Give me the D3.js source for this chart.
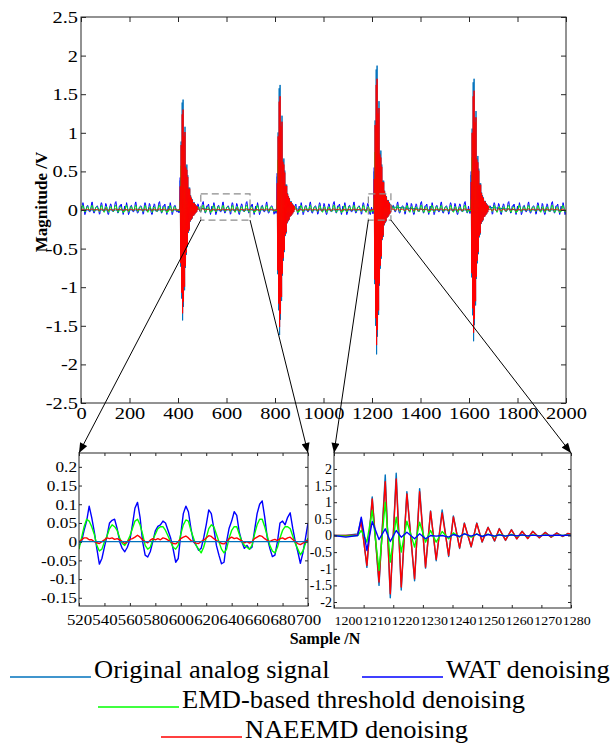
<!DOCTYPE html>
<html>
<head>
<meta charset="utf-8">
<script src="https://cdn.jsdelivr.net/npm/d3@7"></script>
<style>
  body { margin: 0; background: #fff; }
</style>
</head>
<body>
<script>
// ---- data ----
const seriesNames = ["Original analog signal", "WAT denoising", "EMD-based threshold denoising", "NAEEMD denoising"];
const seriesColors = ["#0072BD", "#0000FF", "#00FF00", "#FF0000"];

const xTicksMain = [0, 200, 400, 600, 800, 1000, 1200, 1400, 1600, 1800, 2000];
const yTicksMain = [-2.5, -2, -1.5, -1, -0.5, 0, 0.5, 1, 1.5, 2, 2.5];
const xTicksWin1 = [520, 540, 560, 580, 600, 620, 640, 660, 680, 700];
const yTicksWin1 = [-0.15, -0.1, -0.05, 0, 0.05, 0.1, 0.15, 0.2];
const xTicksWin2 = [1200, 1210, 1220, 1230, 1240, 1250, 1260, 1270, 1280];
const yTicksWin2 = [-2, -1.5, -1, -0.5, 0, 0.5, 1, 1.5, 2];

// zoom window 1 (samples 520-700, read every 2 samples)
const win1Samples = d3.range(520, 701, 2);
const win1Wat = [
  -0.01, 0.0, 0.03, 0.055, 0.095, 0.064, 0.027, -0.018, -0.06, -0.045,
  -0.014, 0.015, 0.05, 0.057, 0.06, 0.035, 0.0, -0.018, -0.027, -0.015,
  0.005, 0.045, 0.09, 0.105, 0.065, 0.0, -0.036, -0.041, -0.027, 0.0,
  0.029, 0.041, 0.045, 0.055, 0.05, 0.03, 0.01, -0.02, -0.055, -0.045,
  0.02, 0.075, 0.095, 0.08, 0.035, 0.0, -0.009, -0.023, -0.018, 0.01,
  0.045, 0.085, 0.075, 0.035, -0.01, -0.036, -0.059, -0.055, 0.0, 0.036,
  0.055, 0.08, 0.07, 0.025, 0.0, -0.018, -0.01, -0.02, -0.015, 0.03,
  0.075, 0.1, 0.109, 0.065, 0.01, -0.018, -0.04, -0.036, 0.0, 0.05,
  0.055, 0.045, 0.065, 0.077, 0.036, 0.0, -0.027, -0.058, -0.03, 0.009,
  0.05
];
const win1Emd = [
  -0.02, 0.01, 0.04, 0.06, 0.055, 0.04, 0.02, -0.01, -0.025, -0.02,
  0.0, 0.015, 0.035, 0.045, 0.04, 0.03, 0.01, -0.005, -0.01, 0.0,
  0.015, 0.035, 0.055, 0.06, 0.045, 0.02, -0.01, -0.02, -0.015, 0.005,
  0.02, 0.035, 0.04, 0.04, 0.03, 0.015, 0.0, -0.015, -0.02, -0.01,
  0.02, 0.045, 0.058, 0.055, 0.03, 0.01, -0.01, -0.02, -0.03, -0.015,
  0.01, 0.035, 0.045, 0.04, 0.02, 0.0, -0.02, -0.03, -0.02, 0.01,
  0.03, 0.04, 0.04, 0.02, 0.0, -0.01, -0.015, -0.02, -0.01, 0.02,
  0.045, 0.06, 0.06, 0.04, 0.015, -0.01, -0.025, -0.03, -0.015, 0.01,
  0.03, 0.04, 0.04, 0.035, 0.015, -0.005, -0.02, -0.035, -0.025, -0.005,
  0.01
];
const win1Naeemd = [
  0.0, 0.005, 0.01, 0.01, 0.005, 0.005, 0.0, -0.003, -0.005, 0.0,
  0.005, 0.01, 0.008, 0.01, 0.006, 0.008, 0.005, 0.0, -0.005, 0.0,
  0.006, 0.008, 0.012, 0.017, 0.012, 0.005, 0.0, -0.003, 0.004, 0.008,
  0.005, 0.008, 0.005, 0.01, 0.008, 0.004, 0.0, -0.005, -0.006, 0.0,
  0.008, 0.012, 0.015, 0.01, 0.003, 0.0, -0.004, -0.005, 0.0, 0.004,
  0.01, 0.016, 0.014, 0.008, 0.003, 0.0, -0.005, -0.006, 0.0, 0.008,
  0.012, 0.008, 0.01, 0.006, 0.002, -0.003, 0.0, -0.004, 0.0, 0.008,
  0.012, 0.016, 0.014, 0.008, 0.003, 0.0, 0.004, 0.006, 0.003, 0.008,
  0.01, 0.006, 0.01, 0.012, 0.006, 0.0, -0.005, -0.008, -0.004, 0.0,
  0.005
];
// the clean signal is flat between impulses
const win1OrigSamples = [520, 700];
const win1Orig = [0, 0];

// zoom window 2 (samples 1200-1280, turning points of the impulse)
const win2Samples = [
  1200, 1204, 1208, 1209.2, 1211.1, 1212.9, 1215.2, 1217.3, 1219.0, 1221.0,
  1222.7, 1224.6, 1227.2, 1228.9, 1230.9, 1232.6, 1234.5, 1236.5, 1238.7, 1240.3,
  1242.4, 1244.0, 1246.3, 1248.2, 1250.0, 1252.0, 1254.2, 1255.8, 1257.9, 1259.9,
  1261.7, 1263.5, 1265.4, 1267.1, 1269.3, 1271.3, 1273.3, 1275.2, 1277.2, 1278.9,
  1280
];
const win2Orig = [
  0, 0, 0.05, 0.5, -0.96, 1.16, -1.5, 1.82, -1.87, 1.87,
  -1.64, 1.32, -1.36, 1.41, -0.98, 0.74, -0.76, 0.77, -0.63, 0.59,
  -0.39, 0.38, -0.35, 0.38, -0.2, 0.25, -0.17, 0.21, -0.15, 0.18,
  -0.1, 0.13, -0.09, 0.13, -0.07, 0.1, -0.05, 0.08, -0.03, 0.06,
  0.04
];
const win2Wat = [
  0, -0.05, 0.0, 0.55, -0.45, 0.42, -0.12, 0.2, -0.18, 0.15,
  -0.05, 0.1, -0.1, 0.05, -0.1, 0.0, -0.02, 0.0, -0.05, 0.03,
  -0.03, 0.05, -0.02, 0.04, -0.03, 0.03, -0.02, 0.02, -0.02, 0.02,
  -0.01, 0.02, -0.01, 0.01, -0.01, 0.01, 0.0, 0.01, 0.0, 0.01,
  0.0
];
const win2Emd = [
  0, -0.02, 0.0, 0.15, -0.2, 0.75, -1.05, 1.0, -0.8, 0.55,
  -0.5, 0.43, -0.35, 0.4, -0.2, 0.15, -0.2, 0.12, -0.1, 0.08,
  -0.05, 0.06, -0.05, 0.05, -0.03, 0.04, -0.03, 0.03, -0.02, 0.03,
  -0.02, 0.02, -0.02, 0.02, -0.01, 0.02, -0.01, 0.01, 0.0, 0.01,
  0.01
];
const win2Naeemd = [
  0, 0, 0.02, 0.4, -0.9, 1.1, -1.4, 1.62, -1.75, 1.7,
  -1.55, 1.25, -1.3, 1.32, -0.95, 0.72, -0.72, 0.68, -0.6, 0.56,
  -0.37, 0.36, -0.33, 0.36, -0.19, 0.24, -0.16, 0.2, -0.14, 0.17,
  -0.1, 0.12, -0.09, 0.12, -0.07, 0.09, -0.05, 0.07, -0.03, 0.06,
  0.04
];

// impulses in the full record and their peak heights
const burstStarts = [400, 800, 1200, 1600];
const burstPeaks = [1.43, 1.62, 1.87, 1.70];

const FONT = "Liberation Serif";

// ---- build the full 2000-sample record from the two windows ----
function fullRecord(nSamples, nValues, bValues) {
  const peak = d3.max(win2Orig);
  const pts = [];
  // background noise: the window-1 stretch repeats across the record
  for (let off = -540; off < 2000; off += 180) {
    nSamples.forEach((s, i) => {
      const t = s - 520 + off;
      if (t < 0 || t > 2000) return;
      if (burstStarts.some(b => t >= b && t <= b + 80)) return;
      pts.push([t, nValues[i]]);
    });
  }
  burstStarts.forEach((b, k) => {
    win2Samples.forEach((s, i) => pts.push([b + s - 1200, bValues[i] * burstPeaks[k] / peak]));
  });
  return pts.sort((a, b) => a[0] - b[0]);
}
const zip = (xs, ys) => xs.map((x, i) => [x, ys[i]]);

const mainData = [
  fullRecord(win1OrigSamples, win1Orig, win2Orig),
  fullRecord(win1Samples, win1Wat, win2Wat),
  fullRecord(win1Samples, win1Emd, win2Emd),
  fullRecord(win1Samples, win1Naeemd, win2Naeemd)
];
const win1Data = [
  zip(win1OrigSamples, win1Orig),
  zip(win1Samples, win1Wat),
  zip(win1Samples, win1Emd),
  zip(win1Samples, win1Naeemd)
];
const win2Data = [
  zip(win2Samples, win2Orig),
  zip(win2Samples, win2Wat),
  zip(win2Samples, win2Emd),
  zip(win2Samples, win2Naeemd)
];

// ---- drawing ----
const svg = d3.select("body").append("svg")
  .attr("width", 616)
  .attr("height", 744)
  .attr("font-family", FONT);

svg.append("defs").append("marker")
  .attr("id", "arrow")
  .attr("viewBox", "0 0 10 8")
  .attr("refX", 10).attr("refY", 4)
  .attr("markerWidth", 11).attr("markerHeight", 8)
  .attr("markerUnits", "userSpaceOnUse")
  .attr("orient", "auto")
  .append("path")
  .attr("d", "M0,0L10,4L0,8Z")
  .attr("fill", "#000");

function stretch(sel, k) {
  sel.each(function() {
    const w = this.getComputedTextLength();
    d3.select(this).attr("textLength", w * k).attr("lengthAdjust", "spacingAndGlyphs");
  });
}

function panel(p) {
  const g = svg.append("g").attr("transform", "translate(" + p.left + "," + p.top + ")");
  const x = d3.scaleLinear().domain(p.xDomain).range([0, p.width]);
  const y = d3.scaleLinear().domain(p.yDomain).range([p.height, 0]);

  g.append("clipPath").attr("id", p.id)
    .append("rect").attr("width", p.width).attr("height", p.height);

  const line = d3.line().x(d => x(d[0])).y(d => y(d[1]));
  g.append("g").attr("clip-path", "url(#" + p.id + ")")
    .selectAll("path")
    .data(p.order)
    .join("path")
    .attr("d", i => line(p.data[i]))
    .attr("fill", "none")
    .attr("stroke", i => seriesColors[i])
    .attr("stroke-width", p.lw)
    .attr("stroke-linejoin", "round");

  const fmt = d => String(d);
  const xa = g.append("g").attr("transform", "translate(0," + p.height + ")")
    .call(d3.axisBottom(x).tickValues(p.xTicks).tickFormat(fmt).tickSizeInner(-p.tick).tickSizeOuter(0).tickPadding(p.xPad));
  const ya = g.append("g")
    .call(d3.axisLeft(y).tickValues(p.yTicks).tickFormat(fmt).tickSizeInner(-p.tick).tickSizeOuter(0).tickPadding(p.yPad));
  g.append("g")
    .call(d3.axisTop(x).tickValues(p.xTicks).tickFormat("").tickSizeInner(-p.tick).tickSizeOuter(0));
  g.append("g").attr("transform", "translate(" + p.width + ",0)")
    .call(d3.axisRight(y).tickValues(p.yTicks).tickFormat("").tickSizeInner(-p.tick).tickSizeOuter(0));

  g.selectAll(".domain").remove();
  g.selectAll(".tick line").attr("stroke", "#262626");
  g.selectAll("g").attr("font-family", FONT);
  g.append("rect")
    .attr("width", p.width).attr("height", p.height)
    .attr("fill", "none").attr("stroke", "#262626").attr("stroke-width", 1);

  xa.selectAll("text").attr("font-family", FONT).attr("fill", "#000")
    .attr("font-size", p.xFont).attr("dx", p.xShift || 0);
  ya.selectAll("text").attr("font-family", FONT).attr("fill", "#000")
    .attr("font-size", p.yFont);
  stretch(xa.selectAll("text"), p.xStretch);
  stretch(ya.selectAll("text"), p.yStretch);
  return { g, x, y };
}

const main = panel({
  id: "clipMain", left: 81, top: 17, width: 485, height: 386,
  xDomain: [0, 2000], yDomain: [-2.5, 2.5],
  xTicks: xTicksMain, yTicks: yTicksMain,
  data: mainData, order: [0, 1, 2, 3], lw: 1,
  tick: 5, xPad: 4, yPad: 3, xFont: 17, yFont: 17, xStretch: 1.2, yStretch: 1.2
});

const win1 = panel({
  id: "clipWin1", left: 79, top: 453, width: 229, height: 153,
  xDomain: [520, 700], yDomain: [-0.172, 0.237],
  xTicks: xTicksWin1, yTicks: yTicksWin1,
  data: win1Data, order: [1, 2, 3, 0], lw: 1.4,
  tick: 3, xPad: 8, yPad: 2, xFont: 15, yFont: 15, xStretch: 1.12, yStretch: 1.15
});

// labels under window 2 sit slightly right of their ticks and close up
const win2 = panel({
  id: "clipWin2", left: 334, top: 453, width: 237, height: 155,
  xDomain: [1200, 1280], yDomain: [-2.18, 2.48],
  xTicks: xTicksWin2, yTicks: yTicksWin2,
  data: win2Data, order: [0, 3, 2, 1], lw: 1.4,
  tick: 3, xPad: 7, yPad: 2, xFont: 13.5, yFont: 14, xStretch: 1.03, yStretch: 1.0,
  xShift: (d, i) => 14 - 1.1 * i
});

// zoom boxes on the main panel and the lines leading to the windows
const boxes = [
  { x0: 494, x1: 697, tl: 79, tw: 229 },
  { x0: 1185, x1: 1278, tl: 334, tw: 237 }
];
const boxY = [-0.13, 0.21];
boxes.forEach(b => {
  const left = 81 + main.x(b.x0), right = 81 + main.x(b.x1);
  const top = 17 + main.y(boxY[1]), bottom = 17 + main.y(boxY[0]);
  svg.append("rect")
    .attr("x", left).attr("y", top)
    .attr("width", right - left).attr("height", bottom - top)
    .attr("fill", "none").attr("stroke", "#8c8c8c")
    .attr("stroke-width", 1.2).attr("stroke-dasharray", "7,4");
  [[left, b.tl], [right, b.tl + b.tw]].forEach(([sx, tx]) => {
    svg.append("line")
      .attr("x1", sx).attr("y1", bottom)
      .attr("x2", tx).attr("y2", 453)
      .attr("stroke", "#000").attr("stroke-width", 1)
      .attr("marker-end", "url(#arrow)");
  });
});

// axis titles
svg.append("text")
  .attr("transform", "translate(47,202) rotate(-90)")
  .attr("text-anchor", "middle")
  .attr("font-family", FONT)
  .attr("font-size", 17).attr("font-weight", "bold")
  .text("Magnitude /V");

svg.append("text")
  .attr("x", 325).attr("y", 644)
  .attr("text-anchor", "middle")
  .attr("font-family", FONT)
  .attr("font-size", 16).attr("font-weight", "bold")
  .text("Sample /N");

// legend
const legendPos = [
  { x: 10, y: 678 },
  { x: 362, y: 678 },
  { x: 98, y: 708 },
  { x: 161, y: 738 }
];
const legend = svg.append("g");
legendPos.forEach((p, i) => {
  legend.append("line")
    .attr("x1", p.x).attr("x2", p.x + 81)
    .attr("y1", p.y - 1).attr("y2", p.y - 1)
    .attr("stroke", seriesColors[i]).attr("stroke-width", 1.5);
  legend.append("text")
    .attr("x", p.x + 84).attr("y", p.y)
    .attr("font-family", FONT)
    .attr("font-size", 25)
    .text(seriesNames[i]);
});
stretch(legend.selectAll("text"), 1.06);
</script>
</body>
</html>
